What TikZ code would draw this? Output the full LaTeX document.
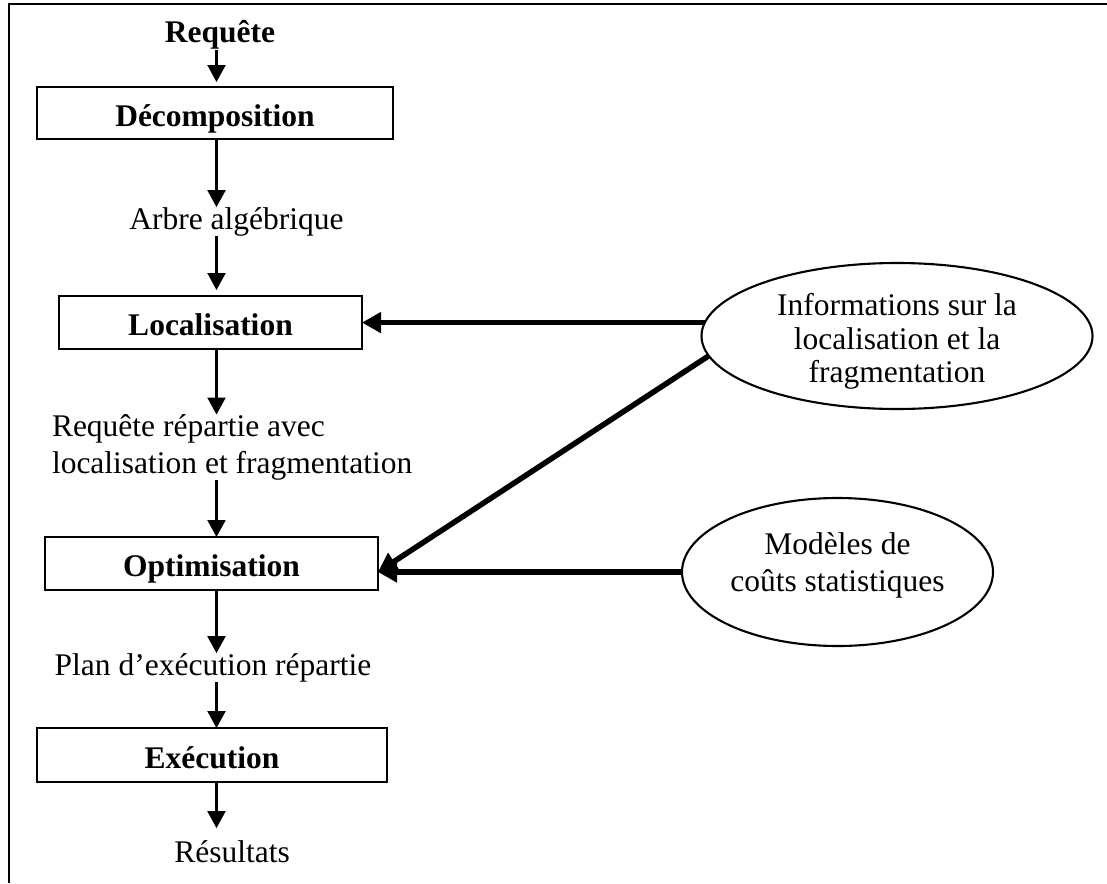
\documentclass[tikz,border=0pt]{standalone}
\usepackage{fontspec}
\setmainfont{Liberation Serif}
\usetikzlibrary{arrows.meta,shapes.geometric}
\begin{document}
\begin{tikzpicture}[x=1pt,y=-1pt,
  every node/.style={inner sep=0pt, outer sep=0pt},
  txt/.style={font=\fontsize{31.5}{37}\selectfont},
  stepbox/.style={draw, line width=2.1pt,
    font=\fontsize{31.5}{37}\selectfont\bfseries,
    text height=26pt, text depth=0pt},
  flow/.style={line width=2.3pt, -{Triangle[length=17pt,width=18pt]}},
  feed/.style={line width=5.5pt, -{Triangle[length=19pt,width=20pt]}},
  source/.style={draw, ellipse, line width=2.1pt},
]
\useasboundingbox (0,0) rectangle (1107,883);

% frame (open at the bottom and on the right)
\draw[line width=2.5pt] (9,883) -- (9,4) -- (1107,4);

% vertical axis of the main flow
\coordinate (axis) at (216.5,0);

% processing steps
\node[stepbox, minimum width=356pt, minimum height=52pt] (dec) at (215,113) {Décomposition};
\node[stepbox, minimum width=303pt, minimum height=53pt] (loc) at (210.5,322.5) {Localisation};
\node[stepbox, minimum width=333pt, minimum height=53pt] (opt) at (211.5,563.5) {Optimisation};
\node[stepbox, minimum width=350pt, minimum height=54pt] (exe) at (212,755) {Exécution};

% intermediate results
\node[txt, font=\fontsize{31.5}{37}\selectfont\bfseries, anchor=base] (req) at (220,43) {Requête};
\node[txt, anchor=base] (arb) at (236.5,229) {Arbre algébrique};
\node[txt, anchor=north west, align=left] (rep) at (52,414.5)
  {Requête répartie avec\\localisation et fragmentation};
\node[txt, anchor=base] (plan) at (213,675) {Plan d’exécution répartie};
\node[txt, anchor=base] (res) at (232,862) {Résultats};

% knowledge sources
\node[source, minimum width=391pt, minimum height=146pt] (info) at (897,336) {};
\node[font=\fontsize{31.5}{33.5}\selectfont, align=center, anchor=north] (infotxt) at (897,293.5)
  {Informations sur la\\localisation et la\\fragmentation};
\node[source, minimum width=311pt, minimum height=148pt] (cost) at (837.5,572) {};
\node[font=\fontsize{31.5}{37}\selectfont, align=center, anchor=north] (costtxt) at (837.5,532.5)
  {Modèles de\\coûts statistiques};

% main flow
\draw[flow, shorten >=5pt] (axis |- req.south) -- (axis |- dec.north);
\draw[flow] (axis |- dec.south) -- (axis |- arb.north);
\draw[flow, shorten >=6pt] (axis |- arb.south) -- (axis |- loc.north);
\draw[flow] (axis |- loc.south) -- (axis |- rep.north);
\draw[flow] (axis |- rep.south) -- (axis |- opt.north);
\draw[flow] (axis |- opt.south) -- (axis |- plan.north);
\draw[flow] (axis |- plan.south) -- (axis |- exe.north);
\draw[flow, shorten >=12pt] (axis |- exe.south) -- (axis |- res.north);

% inputs from the knowledge sources
\coordinate (optin) at ([yshift=-8.5pt]opt.east);
\draw[feed] (info.176) -- (info.176 -| loc.east);
\draw[feed] (info.186) -- (optin);
\draw[feed] (cost.west) -- (optin);
\end{tikzpicture}
\end{document}
